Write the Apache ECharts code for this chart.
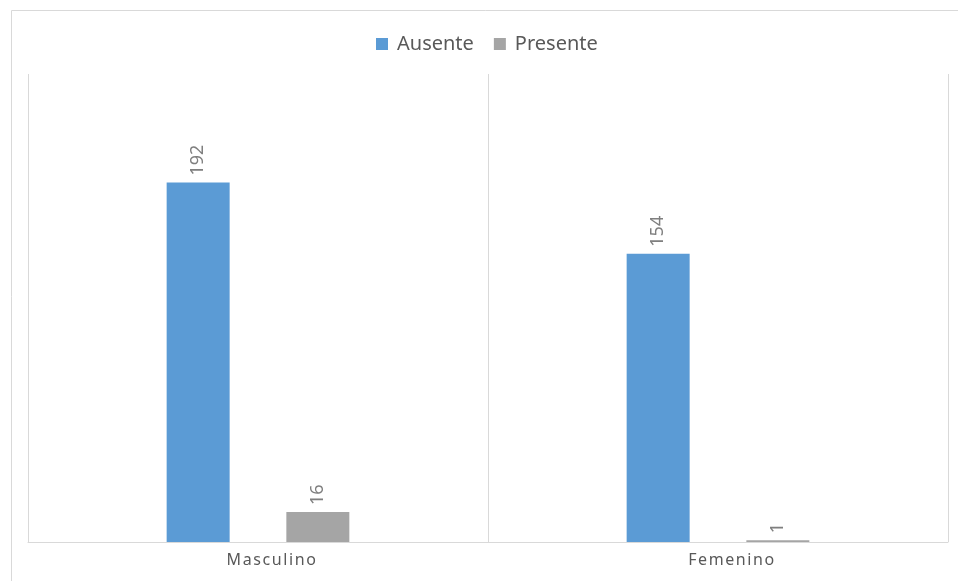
<!DOCTYPE html>
<html>
<head>
<meta charset="utf-8">
<script src="https://cdn.jsdelivr.net/npm/echarts@6/dist/echarts.min.js"></script>
<style>
  html, body { margin: 0; padding: 0; background: #fff; }
  #chart { width: 958px; height: 581px; }
</style>
</head>
<body>
<div id="chart"></div>
<script>
// Sexo
const categories = ['Masculino', 'Femenino'];
const seriesNames = ['Ausente', 'Presente'];
const ausente = [192, 154];
const presente = [16, 1];

// Category names on the x axis are drawn with a little tracking.
(function () {
  const proto = CanvasRenderingContext2D.prototype;
  if (!('letterSpacing' in proto)) return;
  const origFill = proto.fillText;
  proto.fillText = function (text, x, y, maxWidth) {
    const prev = this.letterSpacing;
    this.letterSpacing = categories.includes(String(text)) ? '1.6px' : '0px';
    if (maxWidth === undefined) origFill.call(this, text, x, y);
    else origFill.call(this, text, x, y, maxWidth);
    this.letterSpacing = prev;
  };
})();

const chart = echarts.init(document.getElementById('chart'));
const font = '"Noto Sans", "Open Sans", sans-serif';

const barLabel = {
  show: true,
  position: 'top',
  rotate: 90,
  distance: 7,
  align: 'left',
  verticalAlign: 'middle',
  color: '#7f7f7f',
  fontSize: 18,
  fontFamily: font
};

chart.setOption({
  animation: false,
  textStyle: { fontFamily: font },
  graphic: [{
    type: 'rect',
    left: 9, top: 8,
    shape: { width: 960, height: 580 },
    style: { fill: 'none', stroke: '#d9d9d9', lineWidth: 1 },
    silent: true,
    z: -1
  }],
  legend: {
    data: seriesNames,
    top: 29,
    left: 371,
    itemWidth: 12,
    itemHeight: 12,
    itemGap: 20,
    icon: 'rect',
    textStyle: {
      color: '#595959', fontSize: 20, fontFamily: font,
      padding: [0, 0, 0, 4]
    }
  },
  grid: { left: 28, right: 10, top: 74, bottom: 39, containLabel: false },
  xAxis: {
    type: 'category',
    data: categories,
    axisLine: { show: true, lineStyle: { color: '#d9d9d9', width: 1 } },
    axisTick: { show: false },
    splitLine: { show: true, lineStyle: { color: '#d9d9d9', width: 1 } },
    axisLabel: {
      color: '#595959', fontSize: 16, margin: 10, fontFamily: font,
      padding: [0, 0, 0, 28]
    }
  },
  yAxis: {
    type: 'value',
    min: 0, max: 250,
    show: false,
    splitLine: { show: false }
  },
  series: [
    {
      name: 'Ausente', type: 'bar', data: ausente,
      barWidth: 63, barGap: '90%',
      itemStyle: { color: '#5b9bd5' },
      label: barLabel
    },
    {
      name: 'Presente', type: 'bar', data: presente,
      barWidth: 63,
      itemStyle: { color: '#a5a5a5' },
      label: barLabel
    }
  ]
});
</script>
</body>
</html>
